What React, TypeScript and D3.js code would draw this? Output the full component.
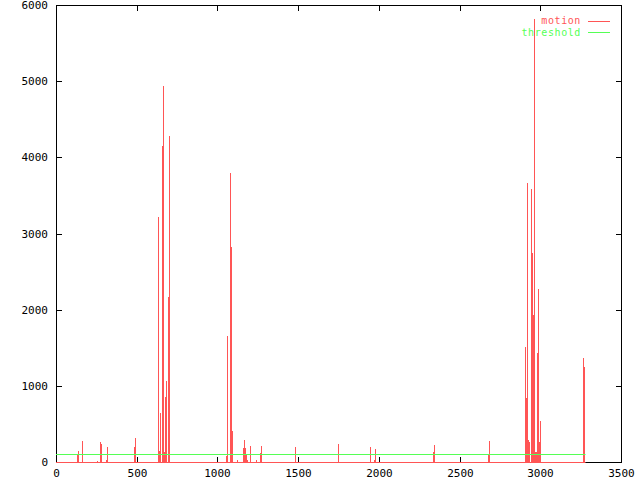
import React from "react";
import * as d3 from "d3";

const motionX = [136, 142, 163, 254, 275, 281, 310, 318, 486, 492,
  632, 638, 644, 650, 657, 663, 669, 675, 681, 687, 694, 700,
  1056, 1062, 1078, 1084, 1090, 1096, 1124, 1161, 1168, 1174, 1180, 1186, 1202, 1245, 1264, 1270,
  1484, 1747, 1753, 1948, 1973, 1979, 2338, 2344, 2682, 2685,
  2911, 2916, 2922, 2928, 2934, 2943, 2949, 2955, 2962, 2968, 2974, 2980, 2986, 2992, 2998, 3004,
  3268, 3274];
const motionY = [92, 144, 276, 13, 263, 236, 20, 197, 197, 315,
  3220, 2900, 150, 643, 4150, 1777, 4936, 130, 857, 1063, 2170, 4280,
  79, 1650, 100, 3800, 2825, 407, 20, 184, 289, 184, 92, 20, 210, 20, 118, 210,
  197, 210, 236, 197, 20, 171, 131, 223, 90, 276,
  1514, 838, 3667, 290, 260, 3584, 2740, 1930, 5816, 130, 130, 1430, 2275, 2205, 260, 540,
  1365, 1247];
const thresholdValue = 100;
const thresholdEnd = 3274;
const xTicks = [0, 500, 1000, 1500, 2000, 2500, 3000, 3500];
const yTicks = [0, 1000, 2000, 3000, 4000, 5000, 6000];
const seriesNames = ["motion", "threshold"];

const RED = "#ff5555";
const GREEN = "#55ff55";
const FONT = "'DejaVu Sans Mono', monospace";

export default function App() {
  const x = d3.scaleLinear().domain([0, 3500]).range([56, 621]);
  const y = d3.scaleLinear().domain([0, 6000]).range([462, 5]);
  const [x0, x1] = x.range();
  const [yb, yt] = y.range();
  const line = d3.line<[number, number]>().x((d) => d[0]).y((d) => d[1]);

  return (
    <svg width={640} height={480} style={{ position: "absolute", left: 0, top: 0, background: "#fff" }}>
      <rect x={0} y={0} width={640} height={480} fill="#fff" />
      {/* frame */}
      <rect x={x0 + 0.5} y={yt + 0.5} width={x1 - x0} height={yb - yt} fill="none" stroke="#000" strokeWidth={1} />
      {yTicks.map((t) => (
        <g key={"y" + t}>
          <line x1={x0} x2={x0 + 6} y1={Math.round(y(t)) + 0.5} y2={Math.round(y(t)) + 0.5} stroke="#000" />
          <line x1={x1 + 1} x2={x1 - 5} y1={Math.round(y(t)) + 0.5} y2={Math.round(y(t)) + 0.5} stroke="#000" />
          <text x={48} y={Math.round(y(t)) + 4} textAnchor="end" fontFamily={FONT} fontSize={11} fill="#000">{t}</text>
        </g>
      ))}
      {xTicks.map((t) => (
        <g key={"x" + t}>
          <line x1={Math.round(x(t)) + 0.5} x2={Math.round(x(t)) + 0.5} y1={yb + 1} y2={yb - 5} stroke="#000" />
          <line x1={Math.round(x(t)) + 0.5} x2={Math.round(x(t)) + 0.5} y1={yt} y2={yt + 6} stroke="#000" />
          <text x={Math.round(x(t)) + 0.5} y={477} textAnchor="middle" fontFamily={FONT} fontSize={11} fill="#000">{t}</text>
        </g>
      ))}
      {/* motion */}
      <path d={line([[x(0), yb + 0.5], [x(motionX[motionX.length - 1]) + 1, yb + 0.5]]) || ""} stroke={RED} strokeWidth={1} fill="none" />
      {motionX.map((mx, i) => {
        const px = Math.floor(x(mx));
        const top = Math.round(y(motionY[i]));
        return <rect key={"m" + i} x={px} y={top} width={1} height={yb + 1 - top} fill={RED} />;
      })}
      {/* threshold */}
      <path d={line([[x(0), Math.round(y(thresholdValue)) + 0.5], [x(thresholdEnd) + 1, Math.round(y(thresholdValue)) + 0.5]]) || ""} stroke={GREEN} strokeWidth={1} fill="none" />
      {/* legend */}
      <text x={581} y={24} textAnchor="end" fontFamily={FONT} fontSize={10} letterSpacing={0.6} fill={RED}>{seriesNames[0]}</text>
      <line x1={588} x2={610} y1={21.5} y2={21.5} stroke={RED} />
      <text x={581} y={36} textAnchor="end" fontFamily={FONT} fontSize={10} letterSpacing={0.6} fill={GREEN}>{seriesNames[1]}</text>
      <line x1={588} x2={610} y1={32.5} y2={32.5} stroke={GREEN} />
    </svg>
  );
}
